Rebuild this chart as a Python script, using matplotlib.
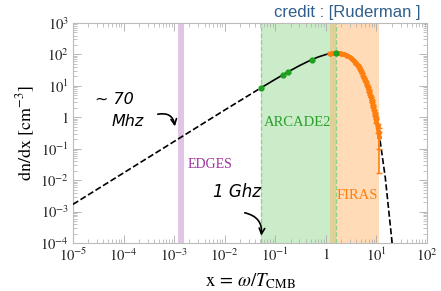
import numpy as np
import matplotlib
matplotlib.use("Agg")
import matplotlib.pyplot as plt
from matplotlib.ticker import LogLocator, FuncFormatter, NullFormatter

plt.rcParams['mathtext.fontset'] = 'stix'

# Blackbody curve
curve_x = [1e-5, 1e-4, 1e-3, 1e-2, 0.053, 0.1, 0.2, 0.3, 0.5, 0.7, 1.0, 1.2, 1.6,
           2.0, 2.5, 3.0, 4.0, 5.0, 6.0, 7.0, 8.0, 9.0, 10.0, 11.0, 11.5, 12.0,
           15.0, 20.0, 22.0]
curve_y = [1.7e-3, 1.7e-2, 0.17, 1.7, 8.8, 16.2, 30.8, 43.9, 65.8, 82.5, 99.4, 105.9, 110.5,
           106.9, 95.4, 80.5, 51.0, 29.0, 15.3, 7.6, 3.67, 1.71, 0.78, 0.345, 0.23, 0.151,
           0.0117, 1.4e-4, 2.3e-5]

# ARCADE2 points
arcade_x = [0.053, 0.141, 0.176, 0.528, 1.58]
arcade_y = [8.8, 22.4, 27.5, 68.4, 110.5]

# FIRAS points
firas_x = [1.2, 1.3, 1.4, 1.5, 1.6, 1.7, 1.8, 1.9, 2.0, 2.15, 2.3, 2.45, 2.6, 2.8, 3.0,
           3.25, 3.5, 3.75, 4.0, 4.25, 4.5, 4.75, 5.0, 5.25, 5.5, 5.75, 6.0, 6.25,
           6.5, 6.75, 7.0, 7.25, 7.5, 7.75, 8.0, 8.25, 8.5, 8.75, 9.0, 9.25, 9.5,
           9.75, 10.0, 10.5, 11.0, 11.5]
firas_y = [105.9, 107.8, 109.0, 110.0, 110.5, 110.3, 109.7, 108.5, 106.9, 104.0, 100.4,
           96.5, 92.0, 86.5, 80.5, 72.8, 64.8, 57.7, 51.0, 44.5, 38.7, 33.6, 29.0, 24.9,
           21.2, 18.0, 15.3, 12.9, 10.8, 9.1, 7.6, 6.4, 5.3, 4.4, 3.67, 3.03, 2.5,
           2.07, 1.71, 1.41, 1.16, 0.95, 0.78, 0.52, 0.345, 0.23]
firas_lo = [0] * 40 + [0.05, 0.08, 0.1, 0.2, 0.25, 0.213]
firas_hi = [0] * 40 + [0.05, 0.08, 0.1, 0.1, 0.1, 0.1]

# bands
edges_band = (1.2e-3, 1.55e-3)
arcade_band = (0.053, 1.62)
firas_band = (1.23, 11.3)

fig = plt.figure(figsize=(4.41, 2.91), dpi=100)
ax = fig.add_axes([73/441, 48/291, (427-73)/441, (243-23)/291])

cx = np.array(curve_x)
cy = np.array(curve_y)

ax.axvspan(*edges_band, color='#cf9fd6', alpha=0.6, lw=0, zorder=1)
ax.axvspan(*arcade_band, color='#7fd07a', alpha=0.4, lw=0, zorder=1)
ax.axvspan(*firas_band, color='#ffa64d', alpha=0.4, lw=0, zorder=1)
for xv in arcade_band:
    ax.axvline(xv, color='#8fd08a', lw=0.9, ls='--', zorder=1.5)

m1 = cx <= arcade_band[0]
ax.plot(cx[m1], cy[m1], 'k--', lw=1.2, zorder=3)
m2 = (cx >= arcade_band[0]) & (cx <= 1.6)
ax.plot(cx[m2], cy[m2], 'k-', lw=1.2, zorder=3)
m3 = cx >= 11.0
ax.plot(cx[m3], cy[m3], 'k--', lw=1.2, zorder=3)

ax.errorbar(firas_x, firas_y, yerr=[firas_lo, firas_hi], color='#ff7f0e', lw=3,
            marker='o', ms=2.5, elinewidth=1.2, capsize=2, zorder=4)
ax.plot(arcade_x, arcade_y, 'o', color='#1fa01f', ms=3.5, zorder=5)

ax.set_xscale('log')
ax.set_yscale('log')
ax.set_xlim(1e-5, 1e2)
ax.set_ylim(1e-4, 1e3)

def fmt(v, pos):
    e = int(round(np.log10(v)))
    if e == 0:
        return '$1$'
    return r'$10^{%d}$' % e

for axis in (ax.xaxis, ax.yaxis):
    axis.set_major_locator(LogLocator(base=10, numticks=20))
    axis.set_minor_locator(LogLocator(base=10, subs=np.arange(2, 10), numticks=20))
    axis.set_major_formatter(FuncFormatter(fmt))
    axis.set_minor_formatter(NullFormatter())

ax.tick_params(which='both', direction='in', top=True, right=True, colors='#aaaaaa',
               labelcolor='#222222', labelsize=10.5, pad=3)
ax.tick_params(which='major', length=6, width=0.6)
ax.tick_params(which='minor', length=3, width=0.5)
for s in ax.spines.values():
    s.set_color('#bbbbbb')
    s.set_linewidth(0.8)

ax.set_xlabel(r'$\mathrm{x}\,=\,\omega/T_{\mathrm{CMB}}$', fontsize=13.5, labelpad=5)
ax.set_ylabel(r'$\mathrm{dn/dx}\ [\mathrm{cm}^{-3}]$', fontsize=13, labelpad=2)

ax.text(1.86e-3, 0.032, 'EDGES', color='#9b2f9b', fontsize=10, va='center',
        family='Liberation Serif')
ax.text(0.059, 0.7, 'ARCADE2', color='#2aa02a', fontsize=10.5, va='center',
        family='Liberation Serif')
ax.text(1.6, 3.3e-3, 'FIRAS', color='#ff7f0e', fontsize=10.5, va='center',
        family='Liberation Serif')

# handwritten notes
ax.text(2.7e-5, 3.8, '~ 70', fontsize=11.5, color='k', fontstyle='italic', va='center')
ax.text(5.9e-5, 0.76, 'Mhz', fontsize=11.5, color='k', fontstyle='italic', va='center')
ax.annotate('', xy=(1.05e-3, 0.42), xytext=(4.2e-4, 1.2),
            arrowprops=dict(arrowstyle='->', color='k', lw=1.2,
                            connectionstyle='arc3,rad=-0.6'))
ax.text(5.9e-3, 4.2e-3, '1 Ghz', fontsize=12, color='k', fontstyle='italic', va='center')
ax.annotate('', xy=(0.052, 1.4e-4), xytext=(2.2e-2, 9.5e-4),
            arrowprops=dict(arrowstyle='->', color='k', lw=1.2,
                            connectionstyle='arc3,rad=-0.5'))

fig.text(421/441, 1 - 13/291, 'credit : [Ruderman ]', color='#2f5f8a', fontsize=12,
         ha='right', va='center', family='Liberation Sans')

fig.savefig('out.png', dpi=100)
